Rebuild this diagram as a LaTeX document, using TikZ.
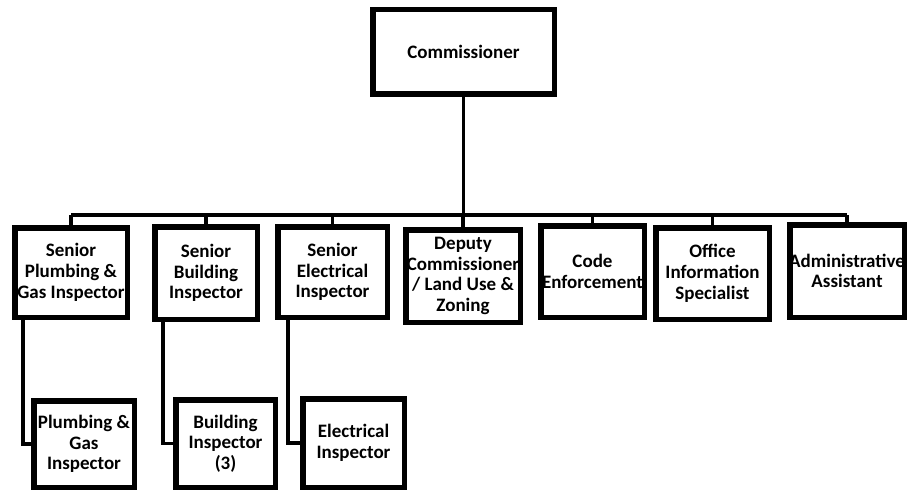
\documentclass[tikz,border=0pt]{standalone}
\usepackage{fontspec}
\setmainfont{Carlito}
\begin{document}
\begin{tikzpicture}[x=1pt,y=-1pt,
 box/.style={draw=black, fill=white, line width=5.5pt, inner sep=0pt},
 txt/.style={inner sep=0pt, align=center, font=\bfseries\fontsize{19}{20.7}\selectfont, text=black},
 conn/.style={draw=black, line width=3.4pt}]
\useasboundingbox (0,0) rectangle (920,492);
\newcommand\orgbox[6]{\node[box, minimum width={#4-#2-5.5}, minimum height={#5-#3-5.5}] (#1) at ({(#2+#4)/2},{(#3+#5)/2}) {};
  \node[txt] (#1-t) at (#1.center) {#6};}
\coordinate (bar) at (0,215);
\orgbox{comm}{370}{7}{557}{97}{Commissioner}
\orgbox{b1}{12}{225}{130}{320}{Senior\\Plumbing \&\\Gas Inspector}
\orgbox{b2}{152}{224}{260}{322}{Senior\\Building\\Inspector}
\orgbox{b3}{275}{224}{390}{320}{Senior\\Electrical\\Inspector}
\orgbox{b4}{403}{227}{523}{325}{Deputy\\Commissioner\\/ Land Use \&\\Zoning}
\orgbox{b5}{538}{223}{647}{320}{Code\\Enforcement}
\orgbox{b6}{653}{225}{772}{322}{Office\\Information\\Specialist}
\orgbox{b7}{787}{222}{907}{320}{Administrative\\Assistant}
\orgbox{ba}{31}{398}{137}{490}{Plumbing \&\\Gas\\Inspector}
\orgbox{bb}{173}{397}{278}{490}{Building\\Inspector\\(3)}
\orgbox{bc}{300}{396}{407}{490}{Electrical\\Inspector}
\draw[conn] (comm.south) -- (comm.south |- bar);
\draw[conn] (b1.north |- bar) -- (b7.north |- bar);
\foreach \n in {b1,b2,b3,b4,b5,b6,b7}{\draw[conn] (\n.north) -- (\n.north |- bar);}
\coordinate (d1) at (23,0);
\coordinate (d2) at (163,0);
\coordinate (d3) at (288,0);
\draw[conn] (b1.south -| d1) |- (ba.west);
\draw[conn] (b2.south -| d2) |- (bb.west);
\draw[conn] (b3.south -| d3) |- (bc.west);
\end{tikzpicture}
\end{document}
